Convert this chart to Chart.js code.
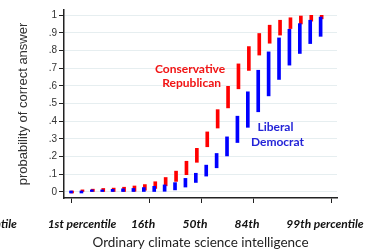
<!DOCTYPE html>
<html>
<head>
<meta charset="utf-8">
<script src="https://cdn.jsdelivr.net/npm/chart.js@4.4.0/dist/chart.umd.min.js"></script>
<style>
  html, body { margin: 0; padding: 0; background: #fff; }
</style>
</head>
<body>
<canvas id="chart" width="374" height="249"></canvas>
<script>
// intelligence in SD units (x position of each bar)
const intelligence = [-2.5, -2.3, -2.1, -1.9, -1.7, -1.5, -1.3, -1.1, -0.9, -0.7, -0.5, -0.3, -0.1,
  0.1, 0.3, 0.5, 0.7, 0.9, 1.1, 1.3, 1.5, 1.7, 1.9, 2.1, 2.3];

// Conservative Republican - 95% range of probability
const repLow = [0, 0, 0, 0, 0, 0, 0.004, 0.01, 0.02, 0.035, 0.06, 0.098, 0.168, 0.256, 0.362,
  0.476, 0.584, 0.688, 0.775, 0.842, 0.888, 0.925, 0.951, 0.967, 0.98];
const repHigh = [0.01, 0.012, 0.016, 0.02, 0.022, 0.027, 0.034, 0.042, 0.058, 0.082, 0.118, 0.174,
  0.247, 0.34, 0.466, 0.598, 0.725, 0.823, 0.897, 0.944, 0.972, 0.986, 0.996, 1.0, 1.0];

// Liberal Democrat
const demLow = [0, 0, 0, 0, 0, 0, 0, 0, 0, 0.004, 0.012, 0.028, 0.054, 0.09, 0.137, 0.204, 0.28,
  0.366, 0.454, 0.544, 0.637, 0.718, 0.784, 0.84, 0.881];
const demHigh = [0.01, 0.01, 0.012, 0.012, 0.015, 0.018, 0.02, 0.025, 0.032, 0.04, 0.053, 0.077,
  0.106, 0.152, 0.218, 0.312, 0.429, 0.567, 0.689, 0.793, 0.872, 0.921, 0.953, 0.972, 0.99];

// axis ticks
const xTickValues = [-2.5, -1, 0, 1, 2.5];
const xTickLabels = ["1st percentile", "16th", "50th", "84th", "99th percentile"];
const yTickValues = [0, 0.1, 0.2, 0.3, 0.4, 0.5, 0.6, 0.7, 0.8, 0.9, 1];
const yTickLabels = ["0", ".1", ".2", ".3", ".4", ".5", ".6", ".7", ".8", ".9", "1"];

const xMin = -2.635;
const xMax = 2.615;
const axisColor = "#222";
const tickFont = { family: "Lato", size: 12, weight: "bold", style: "italic" };

const rangeData = (low, high) =>
  intelligence.map((x, i) => ({ x: x, y: [low[i], high[i]] }));

// group labels, the first tick label (sits right of its tick) and the clipped label on the far left
const textPlugin = {
  id: "groupText",
  afterDraw(chart) {
    const ctx = chart.ctx;
    const xs = chart.scales.x;
    const ys = chart.scales.y;
    ctx.save();
    ctx.textAlign = "center";
    ctx.textBaseline = "middle";
    ctx.font = "bold 12px Lato";
    ctx.fillStyle = "#f21414";
    ctx.fillText("Conservative", xs.getPixelForValue(-0.21), ys.getPixelForValue(0.696));
    ctx.fillText("Republican", xs.getPixelForValue(-0.18), ys.getPixelForValue(0.617));
    ctx.fillStyle = "#2323d8";
    ctx.fillText("Liberal", xs.getPixelForValue(1.43), ys.getPixelForValue(0.368));
    ctx.fillText("Democrat", xs.getPixelForValue(1.47), ys.getPixelForValue(0.283));

    ctx.font = "italic bold 12px Lato";
    ctx.fillStyle = "#111";
    ctx.fillText(xTickLabels[0], xs.getPixelForValue(xTickValues[0]) + 11, 224);
    ctx.textAlign = "right";
    ctx.fillText("percentile", xs.getPixelForValue(-3.54), 224);
    ctx.restore();
  }
};

new Chart(document.getElementById("chart"), {
  type: "bar",
  data: {
    datasets: [
      {
        label: "Liberal Democrat",
        data: rangeData(demLow, demHigh),
        backgroundColor: "#0000ff",
        barThickness: 3,
        minBarLength: 2,
        grouped: false,
        order: 0
      },
      {
        label: "Conservative Republican",
        data: rangeData(repLow, repHigh),
        backgroundColor: "#ff0000",
        barThickness: 3,
        minBarLength: 2,
        grouped: false,
        xAxisID: "x2",
        order: 1
      }
    ]
  },
  options: {
    responsive: false,
    devicePixelRatio: 1,
    animation: false,
    layout: { padding: { left: 0, right: 37, top: 10, bottom: 0 } },
    plugins: { legend: { display: false }, tooltip: { enabled: false } },
    scales: {
      x: {
        type: "linear",
        offset: false,
        min: xMin,
        max: xMax,
        position: "bottom",
        grid: { drawOnChartArea: false, tickLength: 5, tickColor: axisColor, offset: false },
        border: { color: axisColor, width: 1.5 },
        afterBuildTicks: (s) => { s.ticks = xTickValues.map((v) => ({ value: v })); },
        afterFit: (s) => {
          s.height = 51;
          s.paddingLeft = 0;
          s.paddingRight = 0;
        },
        ticks: {
          autoSkip: false,
          maxRotation: 0,
          labelOffset: -6,
          padding: 14,
          color: "#111",
          font: tickFont,
          // first label is drawn by the plugin
          callback: (v, i) => (i === 0 ? "" : xTickLabels[i])
        },
        title: {
          display: true,
          text: "Ordinary climate science intelligence",
          color: "#222",
          font: { family: "Lato", size: 13.5, lineHeight: 1 },
          padding: { top: 0, bottom: 0 }
        }
      },
      // shifted copy so the red bars sit a pixel to the right of the blue ones
      x2: {
        type: "linear",
        display: false,
        offset: false,
        min: xMin - 0.02,
        max: xMax - 0.02
      },
      y: {
        min: -0.034,
        max: 1.03,
        grid: { color: "#e6eef0", tickLength: 5, tickColor: axisColor },
        border: { color: axisColor, width: 1.5 },
        afterBuildTicks: (s) => { s.ticks = yTickValues.map((v) => ({ value: v })); },
        afterFit: (s) => {
          s.width = 64;
          s.paddingTop = 0;
          s.paddingBottom = 0;
        },
        ticks: {
          padding: 2,
          color: "#333",
          font: { family: "Liberation Sans", size: 10 },
          callback: (v, i) => yTickLabels[i]
        },
        title: {
          display: true,
          text: "probability of correct answer",
          color: "#333",
          font: { family: "Liberation Sans", size: 13, lineHeight: 1.2 },
          padding: { top: 16, bottom: 0 }
        }
      }
    }
  },
  plugins: [textPlugin]
});
</script>
</body>
</html>
